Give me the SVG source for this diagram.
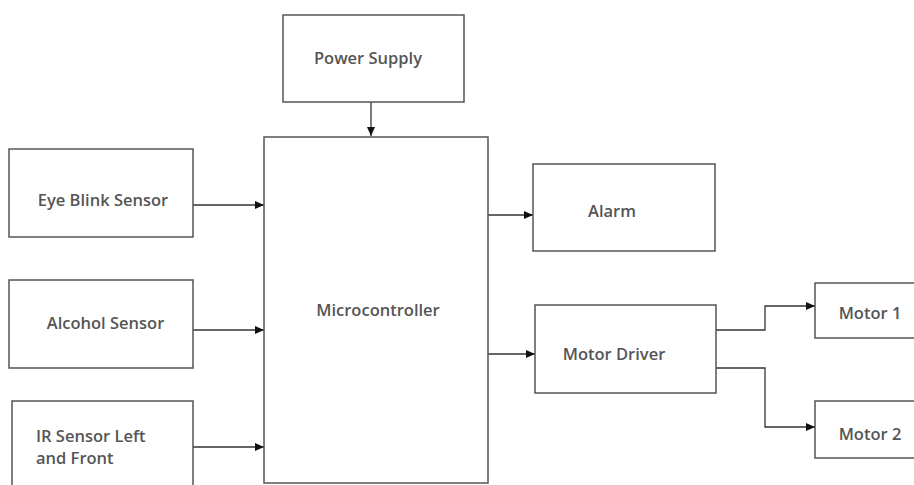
<svg xmlns="http://www.w3.org/2000/svg" width="914" height="485" viewBox="0 0 914 485">
<style>
.box{fill:#fff;stroke:#555;stroke-width:1.5}
.lbl{font-family:"Open Sans","Liberation Sans",sans-serif;font-size:16.5px;font-weight:600;fill:#555;dominant-baseline:central}
.c{text-anchor:middle}
.wire{fill:none;stroke:#333;stroke-width:1.3}
</style>
<defs>
<marker id="ah" markerWidth="10" markerHeight="8" refX="9" refY="4" orient="auto" markerUnits="userSpaceOnUse">
<path d="M0,0 L9,4 L0,8 z" fill="#111"/>
</marker>
</defs>
<rect width="914" height="485" fill="#fff"/>
<g id="connectors">
<path class="wire" d="M371,102 V136" marker-end="url(#ah)"/>
<path class="wire" d="M193,205 H264" marker-end="url(#ah)"/>
<path class="wire" d="M193,330 H264" marker-end="url(#ah)"/>
<path class="wire" d="M193,447 H264" marker-end="url(#ah)"/>
<path class="wire" d="M488,215 H533" marker-end="url(#ah)"/>
<path class="wire" d="M488,354 H535" marker-end="url(#ah)"/>
<path class="wire" d="M716,330 H765 V306 H815" marker-end="url(#ah)"/>
<path class="wire" d="M716,368 H765 V427 H815" marker-end="url(#ah)"/>
</g>
<g id="power-supply">
<rect class="box" x="283" y="15" width="181" height="87"/>
<text class="lbl c" x="368" y="57">Power Supply</text>
</g>
<g id="microcontroller">
<rect class="box" x="264" y="137" width="224" height="346"/>
<text class="lbl c" x="378" y="309">Microcontroller</text>
</g>
<g id="eye-blink-sensor">
<rect class="box" x="9" y="149" width="184" height="88"/>
<text class="lbl c" x="103" y="199">Eye Blink Sensor</text>
</g>
<g id="alcohol-sensor">
<rect class="box" x="9" y="280" width="184" height="88"/>
<text class="lbl c" x="105.5" y="322">Alcohol Sensor</text>
</g>
<g id="ir-sensor">
<rect class="box" x="12" y="401" width="181" height="100"/>
<text class="lbl" x="36" y="435">IR Sensor Left</text>
<text class="lbl" x="36" y="457">and Front</text>
</g>
<g id="alarm">
<rect class="box" x="533" y="164" width="182" height="87"/>
<text class="lbl c" x="612" y="210">Alarm</text>
</g>
<g id="motor-driver">
<rect class="box" x="535" y="305" width="181" height="88"/>
<text class="lbl c" x="614" y="353">Motor Driver</text>
</g>
<g id="motor-1">
<rect class="box" x="815" y="283" width="110" height="55"/>
<text class="lbl c" x="870" y="312">Motor 1</text>
</g>
<g id="motor-2">
<rect class="box" x="815" y="401" width="110" height="57"/>
<text class="lbl c" x="870" y="433">Motor 2</text>
</g>
</svg>
